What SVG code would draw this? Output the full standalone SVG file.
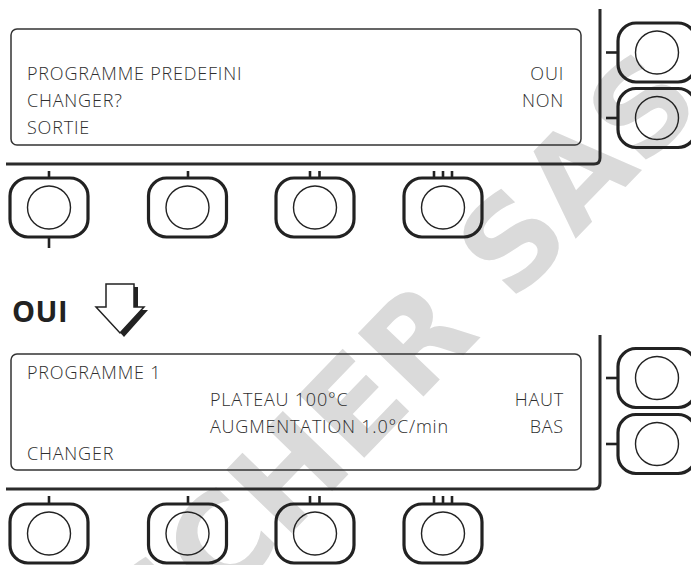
<svg xmlns="http://www.w3.org/2000/svg" width="691" height="565" viewBox="0 0 691 565">
<style>
.wm{font-family:"DejaVu Sans","Liberation Sans",sans-serif;font-weight:bold;font-size:125px;fill:#dadada}
.frame{fill:none;stroke:#2b2b2b;stroke-width:3}
.screen{fill:none;stroke:#333;stroke-width:1.5}
.btn{fill:none;stroke:#222;stroke-width:3.2}
.knob{fill:none;stroke:#222;stroke-width:1.4}
.tick{stroke:#222;stroke-width:2.6}
.t{font-family:"Open Sans","Noto Sans",sans-serif;font-weight:300;font-size:18px;letter-spacing:0.8px;fill:#2e2e2e}
.r{text-anchor:end}
.big{font-family:"Open Sans","Noto Sans",sans-serif;font-weight:bold;font-size:29px;letter-spacing:0.5px;fill:#222}
</style>
<defs>
<g id="bbtn">
<rect class="btn" x="-39" y="-29.5" width="78" height="59" rx="18"/>
<circle class="knob" cx="0" cy="0" r="21.5"/>
</g>
</defs>
<rect width="691" height="565" fill="#fff"/>
<g id="watermark" transform="translate(705,105) rotate(-46)">
<text class="wm" x="0" y="0" text-anchor="end">FISCHER SAS</text>
</g>

<g id="panel1">
<path class="frame" d="M6,164 H594 Q600,164 600,158 V9"/>
<rect class="screen" x="11" y="29" width="570" height="116" rx="6"/>
<text class="t" x="27" y="80">PROGRAMME PREDEFINI</text>
<text class="t" x="27" y="107">CHANGER?</text>
<text class="t" x="27" y="134">SORTIE</text>
<text class="t r" x="564" y="80">OUI</text>
<text class="t r" x="564" y="107">NON</text>
</g>
<g id="p1-right-buttons">
<use href="#bbtn" x="657" y="52.5"/>
<use href="#bbtn" x="657" y="118"/>
<line class="tick" x1="606" y1="52.5" x2="617" y2="52.5"/>
<line class="tick" x1="606" y1="118" x2="617" y2="118"/>
</g>
<g id="p1-bottom-buttons">
<use href="#bbtn" x="49" y="207.5"/>
<use href="#bbtn" x="187.5" y="207.5"/>
<use href="#bbtn" x="315" y="207.5"/>
<use href="#bbtn" x="443" y="207.5"/>
<line class="tick" x1="49" y1="171" x2="49" y2="178"/>
<line class="tick" x1="49" y1="237" x2="49" y2="248"/>
<line class="tick" x1="188" y1="171" x2="188" y2="178"/>
<line class="tick" x1="310" y1="171" x2="310" y2="178"/>
<line class="tick" x1="319.5" y1="171" x2="319.5" y2="178"/>
<line class="tick" x1="434" y1="171" x2="434" y2="178"/>
<line class="tick" x1="443" y1="171" x2="443" y2="178"/>
<line class="tick" x1="452" y1="171" x2="452" y2="178"/>
</g>

<g id="oui-arrow">
<text class="big" x="12" y="322">OUI</text>
<polygon points="110,287 138,287 138,310 148,310 124,337 100,310 110,310" fill="#222"/>
<polygon points="106,284 134,284 134,307 144,307 120,333 96,307 106,307" fill="#fff" stroke="#222" stroke-width="1.5" stroke-linejoin="miter"/>
</g>

<g id="panel2">
<path class="frame" d="M6,489 H594 Q600,489 600,483 V335"/>
<rect class="screen" x="11" y="354" width="570" height="116" rx="6"/>
<text class="t" x="27" y="379">PROGRAMME 1</text>
<text class="t" x="210" y="406">PLATEAU 100°C</text>
<text class="t" x="210" y="433">AUGMENTATION 1.0°C/min</text>
<text class="t" x="27" y="460">CHANGER</text>
<text class="t r" x="564" y="406">HAUT</text>
<text class="t r" x="564" y="433">BAS</text>
</g>
<g id="p2-right-buttons">
<use href="#bbtn" x="657" y="378"/>
<use href="#bbtn" x="657" y="444"/>
<line class="tick" x1="606" y1="378" x2="617" y2="378"/>
<line class="tick" x1="606" y1="444" x2="617" y2="444"/>
</g>
<g id="p2-bottom-buttons">
<use href="#bbtn" x="49" y="533.5"/>
<use href="#bbtn" x="187.5" y="533.5"/>
<use href="#bbtn" x="315" y="533.5"/>
<use href="#bbtn" x="443" y="533.5"/>
<line class="tick" x1="49" y1="496" x2="49" y2="504"/>
<line class="tick" x1="188" y1="496" x2="188" y2="504"/>
<line class="tick" x1="310" y1="496" x2="310" y2="504"/>
<line class="tick" x1="319.5" y1="496" x2="319.5" y2="504"/>
<line class="tick" x1="434" y1="496" x2="434" y2="504"/>
<line class="tick" x1="443" y1="496" x2="443" y2="504"/>
<line class="tick" x1="452" y1="496" x2="452" y2="504"/>
</g>
</svg>
